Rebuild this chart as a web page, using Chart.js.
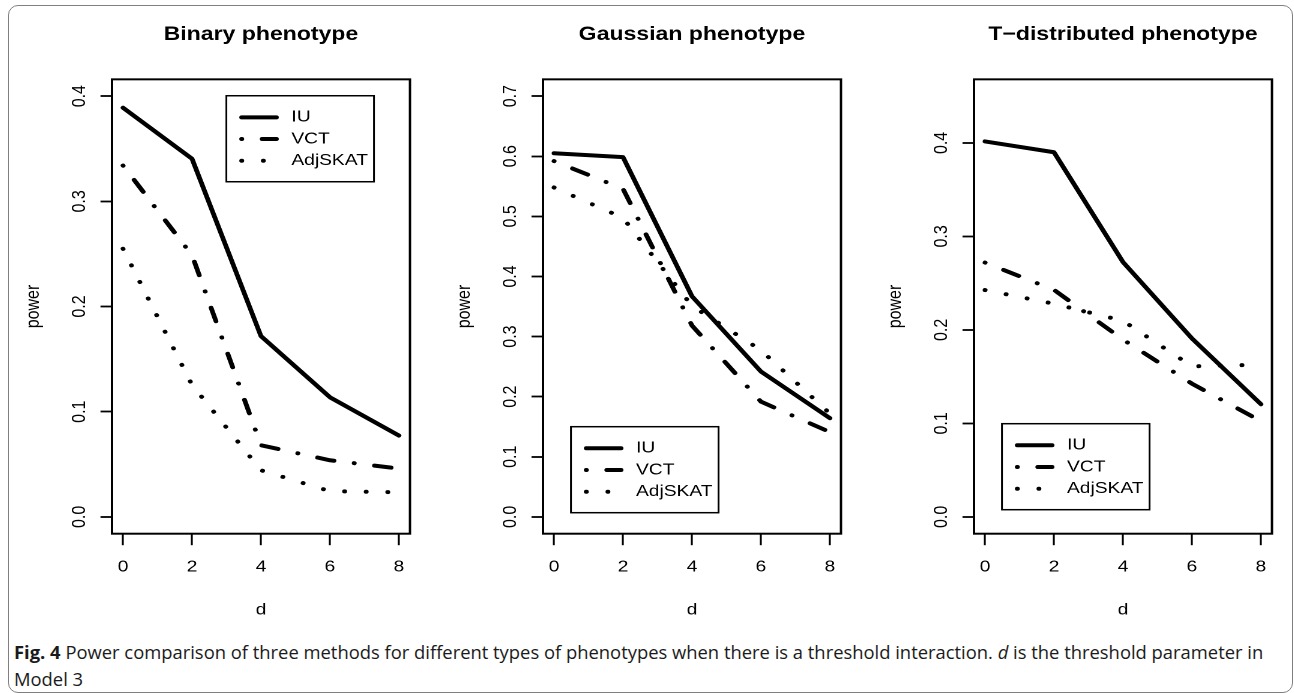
<!DOCTYPE html>
<html>
<head>
<meta charset="utf-8">
<script src="https://cdn.jsdelivr.net/npm/chart.js@4"></script>
<style>
  html, body { margin: 0; padding: 0; background: #fff; overflow: hidden; }
  body { width: 1294px; height: 693px; position: relative; }
  #frame {
    position: absolute; left: 7.5px; top: 4.5px; width: 1285px; height: 688px;
    box-sizing: border-box; border: 1.5px solid #808080; border-radius: 10px;
  }
  .panel {
    position: absolute; top: 0; width: 344px; height: 630px;
    transform: scaleX(1.2); transform-origin: 0 0;
  }
  .cap {
    position: absolute; left: 14px; white-space: nowrap; color: #1a1a1a;
    font-family: 'Open Sans', 'Noto Sans', sans-serif; font-size: 18px; line-height: 18px;
    transform-origin: 0 0;
  }
</style>
</head>
<body>
<div id="frame"></div>
<div class="panel" style="left:9.5px"><canvas id="c1" width="344" height="630"></canvas></div>
<div class="panel" style="left:440.5px"><canvas id="c2" width="344" height="630"></canvas></div>
<div class="panel" style="left:872px"><canvas id="c3" width="344" height="630"></canvas></div>
<div class="cap" id="cap1" style="top:643px"><b>Fig. 4</b> Power comparison of three methods for different types of phenotypes when there is a threshold interaction. <i>d</i> is the threshold parameter in</div>
<div class="cap" id="cap2" style="top:670px">Model 3</div>
<script>
// threshold parameter d
const dValues = [0, 2, 4, 6, 8];
const xTicks = [0, 2, 4, 6, 8];
const methods = ['IU', 'VCT', 'AdjSKAT'];

// power, binary phenotype
const binaryIU = [0.389, 0.3405, 0.1718, 0.1137, 0.0773];
const binaryVCT = [0.334, 0.2488, 0.0681, 0.0538, 0.0459];
const binaryAdjSKAT = [0.2549, 0.1255, 0.0443, 0.0244, 0.0234];
const binaryTicks = [0, 0.1, 0.2, 0.3, 0.4];

// power, gaussian phenotype
const gaussianIU = [0.605, 0.5985, 0.367, 0.2418, 0.1642];
const gaussianVCT = [0.592, 0.5458, 0.3183, 0.1917, 0.141];
const gaussianAdjSKAT = [0.548, 0.4975, 0.351, 0.2773, 0.172];
const gaussianTicks = [0, 0.1, 0.2, 0.3, 0.4, 0.5, 0.6, 0.7];

// power, t-distributed phenotype
const tdistIU = [0.4016, 0.39, 0.2726, 0.1909, 0.1205];
const tdistVCT = [0.272, 0.2428, 0.1896, 0.1425, 0.1024];
const tdistAdjSKAT = [0.2426, 0.228, 0.2097, 0.161, 0.1628];
const tdistTicks = [0, 0.1, 0.2, 0.3, 0.4];

const FONT = "'Liberation Sans', Arial, Helvetica, sans-serif";
Chart.defaults.font.family = FONT;
Chart.defaults.color = '#000';

// line styles like R's lty 1, 4 (dotdash), 3 (dotted)
const dashes = [[], [0.1, 17, 14, 17], [0.1, 17.9]];

// box around the plot region, drawn after the lines as in R
const plotBox = {
  id: 'plotBox',
  afterDatasetsDraw(chart) {
    const { ctx, chartArea: a } = chart;
    ctx.save();
    ctx.lineWidth = 2;
    ctx.strokeStyle = '#000';
    ctx.strokeRect(a.left, a.top, a.right - a.left, a.bottom - a.top);
    ctx.restore();
  }
};

// R style boxed legend
const boxLegend = {
  id: 'boxLegend',
  afterDatasetsDraw(chart, args, opts) {
    const { ctx, chartArea: a } = chart;
    const w = 123, h = 86;
    const x = opts.corner === 'topright' ? a.right - opts.dx - w : a.left + opts.dx;
    const y = opts.corner === 'topright' ? a.top + opts.dy : a.bottom - opts.dy - h;
    ctx.save();
    ctx.fillStyle = '#fff';
    ctx.fillRect(x, y, w, h);
    ctx.lineWidth = 1.5;
    ctx.strokeStyle = '#000';
    ctx.strokeRect(x, y, w, h);
    chart.data.datasets.forEach((ds, i) => {
      const ry = y + 21.6 + i * 21.7;
      ctx.beginPath();
      ctx.setLineDash(ds.borderDash || []);
      ctx.lineWidth = ds.borderWidth;
      ctx.lineCap = 'round';
      ctx.moveTo(x + 12.75, ry);
      ctx.lineTo(x + 41.7, ry);
      ctx.stroke();
      ctx.setLineDash([]);
      ctx.fillStyle = '#000';
      ctx.font = '16px ' + FONT;
      ctx.textBaseline = 'middle';
      ctx.textAlign = 'left';
      ctx.fillText(ds.label, x + 54.2, ry);
    });
    ctx.restore();
  }
};

function makePanel(id, title, series, yMax, yTicks, legendPos) {
  const xPad = 0.04 * (dValues[dValues.length - 1] - dValues[0]);
  const yPad = 0.04 * yMax;
  new Chart(document.getElementById(id), {
    type: 'line',
    data: {
      datasets: series.map((vals, i) => ({
        label: methods[i],
        data: dValues.map((d, j) => ({ x: d, y: vals[j] })),
        borderColor: '#000',
        borderWidth: 4,
        borderDash: dashes[i],
        borderCapStyle: 'round',
        borderJoinStyle: 'round',
        pointRadius: 0,
        tension: 0,
        fill: false
      }))
    },
    options: {
      responsive: false,
      animation: false,
      devicePixelRatio: 2,
      layout: { padding: { left: 0, right: 10.7, top: 0, bottom: 0 } },
      scales: {
        x: {
          type: 'linear',
          min: dValues[0] - xPad,
          max: dValues[dValues.length - 1] + xPad,
          afterFit: s => { s.height = 630 - 533.7; },
          afterBuildTicks: s => { s.ticks = xTicks.map(v => ({ value: v })); },
          border: { display: false },
          grid: { drawOnChartArea: false, tickLength: 11.5, tickWidth: 1.6, tickColor: '#000' },
          ticks: { autoSkip: false, minRotation: 0, maxRotation: 0, padding: 12.5, font: { size: 16 } },
          title: { display: true, text: 'd', font: { size: 16 }, padding: { top: 0, bottom: 10.4 } }
        },
        y: {
          type: 'linear',
          min: -yPad,
          max: yMax + yPad,
          afterFit: s => { s.width = 85; },
          afterBuildTicks: s => { s.ticks = yTicks.map(v => ({ value: v })); },
          border: { display: false },
          grid: { drawOnChartArea: false, tickLength: 9.6, tickWidth: 1.8, tickColor: '#000' },
          ticks: {
            autoSkip: false, minRotation: 90, maxRotation: 90, crossAlign: 'center', padding: 6.1,
            font: { size: 16 }, callback: v => v.toFixed(1)
          },
          title: { display: true, text: 'power', font: { size: 16 }, padding: { top: 10, bottom: 0 } }
        }
      },
      plugins: {
        legend: { display: false },
        tooltip: { enabled: false },
        title: {
          display: true, text: title, fullSize: false, color: '#000',
          font: { size: 19.2, weight: 'bold' },
          padding: { top: 23.2, bottom: 33.1 }
        },
        boxLegend: legendPos
      }
    },
    plugins: [plotBox, boxLegend]
  });
}

makePanel('c1', 'Binary phenotype', [binaryIU, binaryVCT, binaryAdjSKAT], 0.4, binaryTicks,
  { corner: 'topright', dx: 30, dy: 16.4 });
makePanel('c2', 'Gaussian phenotype', [gaussianIU, gaussianVCT, gaussianAdjSKAT], 0.7, gaussianTicks,
  { corner: 'bottomleft', dx: 23.3, dy: 21 });
makePanel('c3', 'T\u2212distributed phenotype', [tdistIU, tdistVCT, tdistAdjSKAT], 0.45, tdistTicks,
  { corner: 'bottomleft', dx: 23.3, dy: 24 });

// squeeze the caption to the reference line length
const cap1 = document.getElementById('cap1');
const cap2 = document.getElementById('cap2');
const sx = 1249 / cap1.scrollWidth;
cap1.style.transform = 'scaleX(' + sx + ')';
cap2.style.transform = 'scaleX(' + sx + ')';
</script>
</body>
</html>
